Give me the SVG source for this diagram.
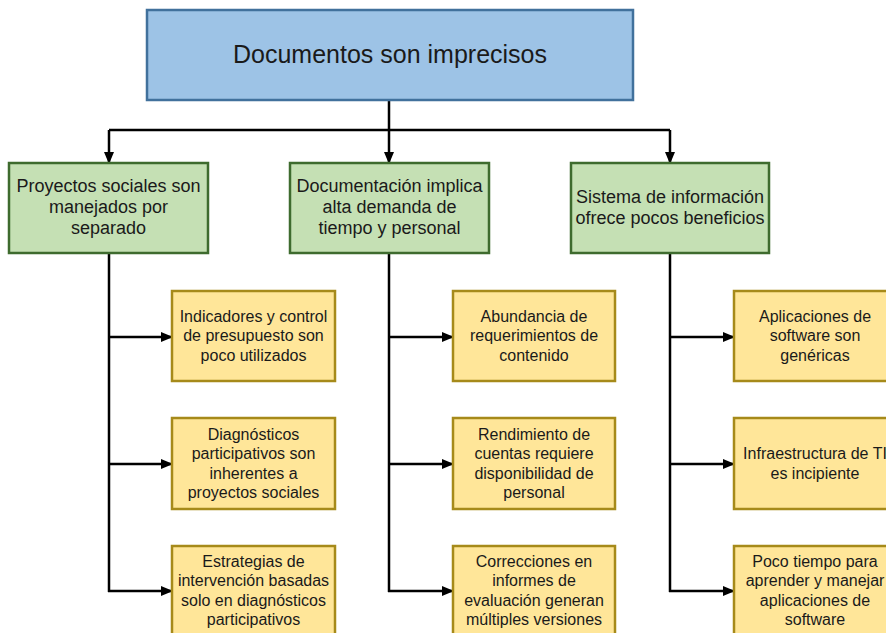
<svg xmlns="http://www.w3.org/2000/svg" width="886" height="633" viewBox="0 0 886 633">
<style>
.top{fill:#9DC3E6;stroke:#41719C;stroke-width:2.5}
.mid{fill:#C5E0B4;stroke:#3E6B2E;stroke-width:2.5}
.leaf{fill:#FFE699;stroke:#A68A1A;stroke-width:2.5}
.t{font-family:"Liberation Sans",Arial,sans-serif;fill:#1a1a1a;text-anchor:middle}
.tt{font-size:25px}
.tm{font-size:18px}
.tl{font-size:16px}
.c{fill:none;stroke:#000;stroke-width:2.5}
</style>
<defs>
<marker id="ah" markerUnits="userSpaceOnUse" markerWidth="12" markerHeight="10" refX="11" refY="5" orient="auto">
<path d="M0,0 L12,5 L0,10 Z" fill="#000"/>
</marker>
</defs>
<rect width="886" height="633" fill="#fff"/>
<g id="connectors">
<path class="c" d="M389,100 V130 M109,130 H670"/>
<path class="c" d="M109,130 V163" marker-end="url(#ah)"/>
<path class="c" d="M389,130 V163" marker-end="url(#ah)"/>
<path class="c" d="M670,130 V163" marker-end="url(#ah)"/>
<path class="c" d="M109,253 V592 M389,253 V592 M670,253 V592"/>
<path class="c" d="M108,337 H172" marker-end="url(#ah)"/>
<path class="c" d="M108,464 H172" marker-end="url(#ah)"/>
<path class="c" d="M108,591 H172" marker-end="url(#ah)"/>
<path class="c" d="M388,337 H453" marker-end="url(#ah)"/>
<path class="c" d="M388,464 H453" marker-end="url(#ah)"/>
<path class="c" d="M388,591 H453" marker-end="url(#ah)"/>
<path class="c" d="M669,337 H734" marker-end="url(#ah)"/>
<path class="c" d="M669,464 H734" marker-end="url(#ah)"/>
<path class="c" d="M669,591 H734" marker-end="url(#ah)"/>
</g>
<g id="root">
<rect class="top" x="147" y="10" width="486" height="90"/>
<text class="t tt" x="390" y="63">Documentos son imprecisos</text>
</g>
<g id="n1">
<rect class="mid" x="9" y="163" width="199" height="90"/>
<text class="t tm"><tspan x="108.5" y="192">Proyectos sociales son</tspan><tspan x="108.5" y="213">manejados por</tspan><tspan x="108.5" y="234">separado</tspan></text>
</g>
<g id="n2">
<rect class="mid" x="290" y="163" width="199" height="90"/>
<text class="t tm"><tspan x="389.5" y="192">Documentación implica</tspan><tspan x="389.5" y="213">alta demanda de</tspan><tspan x="389.5" y="234">tiempo y personal</tspan></text>
</g>
<g id="n3">
<rect class="mid" x="571" y="163" width="198" height="90"/>
<text class="t tm"><tspan x="670" y="203">Sistema de información</tspan><tspan x="670" y="224">ofrece pocos beneficios</tspan></text>
</g>
<g id="l11">
<rect class="leaf" x="172" y="291" width="163" height="90"/>
<text class="t tl"><tspan x="253.5" y="322">Indicadores y control</tspan><tspan x="253.5" y="341">de presupuesto son</tspan><tspan x="253.5" y="361">poco utilizados</tspan></text>
</g>
<g id="l12">
<rect class="leaf" x="172" y="418" width="163" height="91"/>
<text class="t tl"><tspan x="253.5" y="440">Diagnósticos</tspan><tspan x="253.5" y="459">participativos son</tspan><tspan x="253.5" y="479">inherentes a</tspan><tspan x="253.5" y="498">proyectos sociales</tspan></text>
</g>
<g id="l13">
<rect class="leaf" x="172" y="546" width="163" height="91"/>
<text class="t tl"><tspan x="253.5" y="567">Estrategias de</tspan><tspan x="253.5" y="586">intervención basadas</tspan><tspan x="253.5" y="606">solo en diagnósticos</tspan><tspan x="253.5" y="625">participativos</tspan></text>
</g>
<g id="l21">
<rect class="leaf" x="453" y="291" width="162" height="90"/>
<text class="t tl"><tspan x="534" y="322">Abundancia de</tspan><tspan x="534" y="341">requerimientos de</tspan><tspan x="534" y="361">contenido</tspan></text>
</g>
<g id="l22">
<rect class="leaf" x="453" y="418" width="162" height="91"/>
<text class="t tl"><tspan x="534" y="440">Rendimiento de</tspan><tspan x="534" y="459">cuentas requiere</tspan><tspan x="534" y="479">disponibilidad de</tspan><tspan x="534" y="498">personal</tspan></text>
</g>
<g id="l23">
<rect class="leaf" x="453" y="546" width="162" height="91"/>
<text class="t tl"><tspan x="534" y="567">Correcciones en</tspan><tspan x="534" y="586">informes de</tspan><tspan x="534" y="606">evaluación generan</tspan><tspan x="534" y="625">múltiples versiones</tspan></text>
</g>
<g id="l31">
<rect class="leaf" x="734" y="291" width="162" height="90"/>
<text class="t tl"><tspan x="815" y="322">Aplicaciones de</tspan><tspan x="815" y="341">software son</tspan><tspan x="815" y="361">genéricas</tspan></text>
</g>
<g id="l32">
<rect class="leaf" x="734" y="418" width="162" height="91"/>
<text class="t tl"><tspan x="815" y="459">Infraestructura de TI</tspan><tspan x="815" y="479">es incipiente</tspan></text>
</g>
<g id="l33">
<rect class="leaf" x="734" y="546" width="162" height="91"/>
<text class="t tl"><tspan x="815" y="567">Poco tiempo para</tspan><tspan x="815" y="586">aprender y manejar</tspan><tspan x="815" y="606">aplicaciones de</tspan><tspan x="815" y="625">software</tspan></text>
</g>
</svg>
